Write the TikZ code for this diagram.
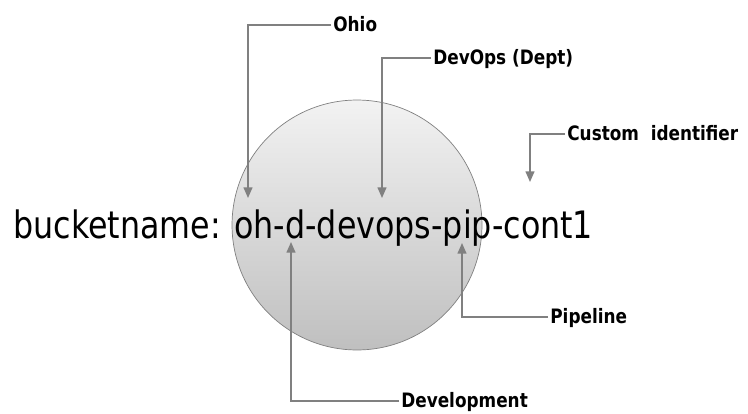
\documentclass[tikz,border=0pt]{standalone}
\usepackage{fontspec}
\usetikzlibrary{arrows.meta}
\newfontfamily\namefont{DejaVu Sans}[FakeStretch=0.84]
\newfontfamily\tagfont{DejaVu Sans}[FakeStretch=0.85]
\begin{document}
\begin{tikzpicture}[x=0.02cm,y=-0.02cm,
  tag/.style={anchor=west,inner sep=0.04cm,text height=0.73em,text depth=0pt,
    font=\tagfont\bfseries\fontsize{11.3pt}{13pt}\selectfont},
  pointer/.style={draw=black!50,line width=0.85pt,-{Triangle[length=6pt,width=5pt]}}]
\useasboundingbox (0,0) rectangle (748,413);

\node (disc) at (357,225) [circle,minimum size=5cm,inner sep=0,draw=black!50,top color=black!5,bottom color=black!25] {};
\node (bucket) at (13,238) [anchor=base west,inner sep=0,font=\namefont\fontsize{21.5pt}{24pt}\selectfont] {bucketname: oh-d-devops-pip-cont1};

\node (ohio) at (331,25) [tag] {Ohio};
\node (dept) at (431,58) [tag] {DevOps (Dept)};
\node (custom) at (565,134) [tag] {Custom~~identifier};
\node (pipe) at (548,317) [tag] {Pipeline};
\node (dev) at (399,401) [tag] {Development};

\coordinate (ohiotip) at (248,198);
\coordinate (depttip) at (382,198);
\coordinate (customtip) at (530,182);
\coordinate (pipetip) at (462,243);
\coordinate (devtip) at (291,242);

\draw[pointer] (ohio.west) -| (ohiotip);
\draw[pointer] (dept.west) -| (depttip);
\draw[pointer] (custom.west) -| (customtip);
\draw[pointer] (pipe.west) -| (pipetip);
\draw[pointer] (dev.west) -| (devtip);
\end{tikzpicture}
\end{document}
